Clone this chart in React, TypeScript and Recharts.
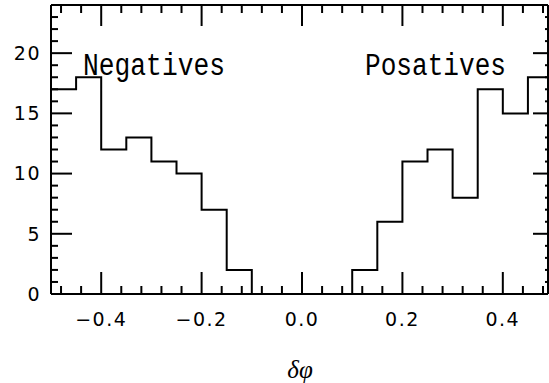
import React from 'react';
import { LineChart, Line, XAxis, YAxis } from 'recharts';

const binEdges = [-0.5, -0.45, -0.4, -0.35, -0.3, -0.25, -0.2, -0.15, -0.1, -0.05, 0, 0.05, 0.1, 0.15, 0.2, 0.25, 0.3, 0.35, 0.4, 0.45, 0.5];
const counts = [17, 18, 12, 13, 11, 10, 7, 2, 0, 0, 0, 0, 2, 6, 11, 12, 8, 17, 15, 18];

const xTicks = [-0.48, -0.44, -0.4, -0.36, -0.32, -0.28, -0.24, -0.2, -0.16, -0.12, -0.08, -0.04, 0, 0.04, 0.08, 0.12, 0.16, 0.2, 0.24, 0.28, 0.32, 0.36, 0.4, 0.44, 0.48];
const xMajor = [-0.4, -0.2, 0, 0.2, 0.4];
const xMajorLabels = ['\u22120.4', '\u22120.2', '0.0', '0.2', '0.4'];
const yMinorTicks = [1, 2, 3, 4, 5, 6, 7, 8, 9, 10, 11, 12, 13, 14, 15, 16, 17, 18, 19, 20, 21, 22, 23];
const yMajor = [0, 5, 10, 15, 20];
const annotations = ['Negatives', 'Posatives'];
const xTitle = '\u03b4\u03c6';

const X_DOMAIN = [-0.5, 0.49];
const Y_DOMAIN = [0, 24];

const W = 549;
const H = 383;
const M_TOP = 5;
const M_RIGHT = 1;
const Y_W = 51;
const PLOT_TOP = M_TOP;
const PLOT_LEFT = Y_W;
const PLOT_RIGHT = W - M_RIGHT;

const data = binEdges.map((e, i) => ({ x: e, y: i < counts.length ? counts[i] : counts[counts.length - 1] }));

const majorIndex = (list: number[], v: number) => list.findIndex((m) => Math.abs(m - v) < 1e-6);

// frame (top/right borders) and y tick marks, anchored to the x-axis line position
const Frame = ({ bottom }: { bottom: number }) => {
  const span = bottom - PLOT_TOP;
  const yPx = (v: number) => bottom - (span * (v - Y_DOMAIN[0])) / (Y_DOMAIN[1] - Y_DOMAIN[0]);
  return (
    <g>
      <line x1={PLOT_LEFT} x2={PLOT_RIGHT} y1={PLOT_TOP} y2={PLOT_TOP} stroke="#000" strokeWidth={2} />
      <line x1={PLOT_RIGHT} x2={PLOT_RIGHT} y1={PLOT_TOP} y2={bottom} stroke="#000" strokeWidth={2} />
      {yMinorTicks.map((v) => {
        const maj = majorIndex(yMajor, v) >= 0;
        const yy = yPx(v);
        return (
          <g key={'yt' + v}>
            <line x1={PLOT_LEFT} x2={PLOT_LEFT + (maj ? 21 : 7)} y1={yy} y2={yy} stroke="#000" strokeWidth={2} />
            <line x1={PLOT_RIGHT} x2={PLOT_RIGHT - (maj ? 15 : 3)} y1={yy} y2={yy} stroke="#000" strokeWidth={2} />
          </g>
        );
      })}
    </g>
  );
};

const BottomTick = (props: any) => {
  const x = Number(props.x);
  const y = Number(props.y);
  const idx = majorIndex(xMajor, props.payload.value);
  const len = idx >= 0 ? 22 : 8;
  const tlen = idx >= 0 ? 21 : 8;
  return (
    <g>
      {props.index === 0 ? <Frame bottom={y} /> : null}
      <line x1={x} x2={x} y1={y} y2={y - len} stroke="#000" strokeWidth={2} />
      <line x1={x} x2={x} y1={PLOT_TOP} y2={PLOT_TOP + tlen} stroke="#000" strokeWidth={2} />
      {idx >= 0 ? (
        <text x={x} y={y + 32} textAnchor="middle" fontFamily="DejaVu Sans" fontSize={19} letterSpacing={1.5} fill="#000">
          {xMajorLabels[idx]}
        </text>
      ) : null}
    </g>
  );
};

export default function App() {
  return (
    <div style={{ position: 'absolute', left: 0, top: 0, width: W, height: H, background: '#fff' }}>
      <LineChart width={W} height={H} data={data} margin={{ top: M_TOP, right: M_RIGHT, bottom: 0, left: 0 }}>
        <XAxis
          xAxisId="b"
          dataKey="x"
          type="number"
          domain={X_DOMAIN}
          allowDataOverflow
          ticks={xTicks}
          interval={0}
          tickSize={0}
          tickMargin={0}
          tickLine={false}
          tick={BottomTick}
          height={89}
          axisLine={{ stroke: '#000', strokeWidth: 2 }}
        />
        <YAxis
          yAxisId="l"
          type="number"
          domain={Y_DOMAIN}
          ticks={yMajor}
          interval={0}
          width={Y_W}
          tickLine={false}
          tickMargin={4}
          tick={{ fill: '#000', fontSize: 19, fontFamily: 'DejaVu Sans', letterSpacing: 1.5 }}
          axisLine={{ stroke: '#000', strokeWidth: 2 }}
        />
        <Line
          xAxisId="b"
          yAxisId="l"
          type="stepAfter"
          dataKey="y"
          stroke="#000"
          strokeWidth={2}
          dot={false}
          isAnimationActive={false}
        />
      </LineChart>
      <svg width={W} height={H} style={{ position: 'absolute', left: 0, top: 0, pointerEvents: 'none' }}>
        <text x={83} y={75} textLength={142} lengthAdjust="spacingAndGlyphs" fontFamily="Liberation Mono" fontSize={31} fill="#000">
          {annotations[0]}
        </text>
        <text x={365} y={75} textLength={141} lengthAdjust="spacingAndGlyphs" fontFamily="Liberation Mono" fontSize={31} fill="#000">
          {annotations[1]}
        </text>
        <text x={300} y={378} textAnchor="middle" fontFamily="Liberation Serif" fontStyle="italic" fontSize={25} fill="#000">
          {xTitle}
        </text>
      </svg>
    </div>
  );
}
